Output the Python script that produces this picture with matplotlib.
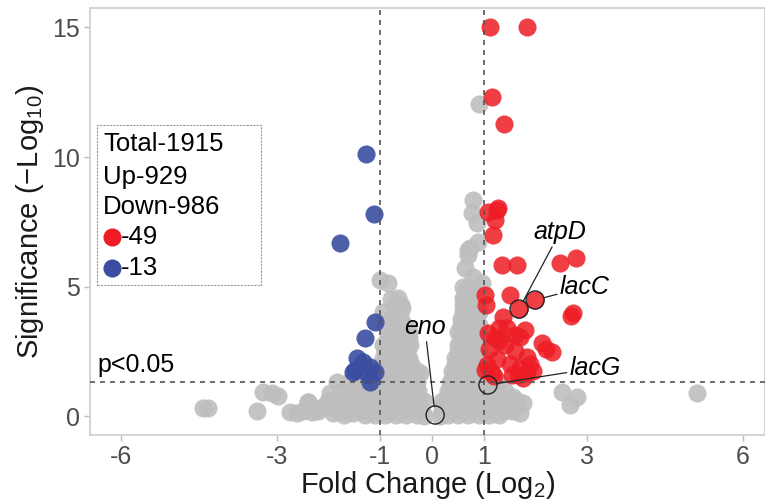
import matplotlib
matplotlib.use("Agg")
import matplotlib.pyplot as plt
from matplotlib.patches import Rectangle

plt.rcParams['font.family'] = ['Liberation Sans', 'DejaVu Sans']
plt.rcParams['mathtext.fontset'] = 'custom'
plt.rcParams['mathtext.rm'] = 'Liberation Sans'

# Up-regulated, significant (log2 fold change, -log10 p)
up_fc = [1.12, 1.83, 1.16, 1.39, 1.08, 1.25, 1.22, 1.18, 1.27, 1.35, 1.64, 2.47, 2.78,
         1.02, 1.51, 1.68, 1.99, 2.72, 2.68, 1.37, 1.08, 1.22, 1.41, 1.60, 1.80, 1.70,
         2.12, 2.32, 1.83, 1.06, 1.02, 1.70, 1.83, 1.66, 1.76, 1.16, 1.30, 1.25, 1.50,
         1.90, 1.55, 2.20, 1.45, 1.10, 1.20, 1.95, 1.05, 1.60, 1.30]
up_sig = [15.0, 15.0, 12.3, 11.27, 7.88, 7.95, 7.57, 6.99, 8.03, 5.83, 5.83, 5.90, 6.10,
          4.67, 4.67, 4.13, 4.48, 3.98, 3.85, 3.82, 3.20, 3.01, 2.74, 3.13, 3.32, 3.05,
          2.82, 2.47, 2.28, 1.97, 1.78, 1.85, 1.66, 1.58, 1.47, 1.66, 3.40, 2.20, 2.00,
          2.00, 1.60, 2.60, 3.40, 2.60, 1.55, 1.75, 4.30, 2.50, 2.90]

# Down-regulated, significant
down_fc = [-1.27, -1.12, -1.78, -1.10, -1.29, -1.45, -1.49, -1.33, -1.20, -1.10, -1.24, -1.53, -1.20]
down_sig = [10.1, 7.80, 6.68, 3.63, 3.01, 2.24, 1.78, 2.08, 1.89, 1.70, 1.58, 1.70, 1.31]

# Not significant
gray_fc = [-4.42, -4.32, -3.38, -3.26, -3.09, -2.97, -2.74, -2.60, -2.39, -2.32, -2.12,
           -1.97, -1.83, -1.91, -1.64, -1.45, -1.53, -1.25, -1.06,
           -1.70, -1.30, -1.10, -0.90, -0.70, -0.50, -0.30, -0.15, 0.15, 0.30, 0.50,
           0.70, 0.90, 1.10, 1.30, 1.45, 1.70,
           -1.90, -1.70, -1.50, -1.05, -0.85, -0.65, -0.45, -0.25, 0.22, 0.40, 0.60,
           0.80, 1.00, 1.20, 1.40, 1.60,
           -2.39, -1.40, -1.20, -1.00, -0.80, -0.60, -0.40, -0.25, 0.30, 0.50, 0.70,
           0.90, 1.10, 1.30, 1.56, 1.76,
           -0.90, -0.70, -0.50, -0.35, 0.35, 0.55, 0.75, 0.95, 1.25,
           -0.95, -0.80, -0.60, -0.40, -0.23, 0.40, 0.60, 0.80, 0.95,
           -0.95, -0.75, -0.55, -0.40, 0.45, 0.65, 0.85,
           -0.90, -0.70, -0.50, -0.46, 0.50, 0.70, 0.90, 0.73,
           -0.85, -0.65, -0.45, 0.55, 0.75, 0.95, 0.58,
           -0.90, -0.68, -0.50, -0.87, 0.55, 0.75, 0.90, 0.64,
           -0.95, -0.58, 0.60, 0.80, 0.90, 0.87,
           -0.66, -0.80, 0.60, 0.79,
           -1.00, -0.85, 0.64, 0.79, 0.97, 0.64, 0.79, 0.68,
           0.69, 0.73, 0.89, 0.87, 0.77, 0.79, 0.91, 0.70,
           2.51, 2.80, 2.66, 5.12,
           # second, offset layer
           -2.50, -2.20, -1.80, -1.60, -1.40, -1.20, -1.00, -0.80, -0.60, -0.40, -0.20,
           0.20, 0.40, 0.60, 0.80, 1.00, 1.20, 1.35, 1.55,
           -2.00, -1.80, -1.55, -1.30, -1.10, -0.90, -0.70, -0.50, -0.30, -0.15,
           0.20, 0.40, 0.60, 0.80, 1.00, 1.20, 1.40, 1.65,
           -1.75, -1.55, -1.30, -1.10, -0.95, -0.80, -0.60, -0.40, -0.28,
           0.30, 0.45, 0.65, 0.85, 1.05, 1.20, 1.40,
           -1.60, -1.30, -1.00, -0.85, -0.65, -0.45, -0.30,
           0.35, 0.50, 0.70, 0.90, 1.10, 1.30,
           -1.00, -0.85, -0.70, -0.50, -0.30, 0.38, 0.55, 0.75, 0.90,
           -0.95, -0.80, -0.60, -0.45, 0.45, 0.60, 0.80, 0.95,
           -0.95, -0.80, -0.60, -0.42, 0.50, 0.65, 0.85,
           -0.80, -0.60, -0.45, 0.50, 0.65, 0.85,
           -0.80, -0.60, 0.55, 0.70, 0.85,
           -0.72, -0.60, 0.60, 0.72,
           0.60, 0.72]
gray_sig = [0.30, 0.30, 0.20, 0.93, 0.89, 0.77, 0.15, 0.10, 0.54, 0.15, 0.35,
            0.89, 1.31, 0.10, 0.62, 1.12, 0.10, 0.35, 1.12,
            0.05, 0.05, 0.05, 0.05, 0.05, 0.05, 0.05, 0.00, 0.00, 0.05, 0.05,
            0.05, 0.05, 0.05, 0.05, 0.23, 0.10,
            0.40, 0.35, 0.35, 0.40, 0.40, 0.40, 0.40, 0.40, 0.40, 0.40, 0.40,
            0.40, 0.40, 0.40, 0.40, 0.40,
            0.54, 0.75, 0.75, 0.75, 0.75, 0.75, 0.75, 0.70, 0.75, 0.75, 0.75,
            0.75, 0.75, 0.75, 0.73, 0.50,
            1.15, 1.15, 1.15, 1.10, 1.10, 1.15, 1.15, 1.15, 1.12,
            1.50, 1.50, 1.50, 1.50, 1.66, 1.50, 1.50, 1.50, 1.50,
            2.00, 2.00, 2.00, 2.00, 2.00, 2.00, 2.00,
            2.50, 2.50, 2.50, 2.66, 2.50, 2.50, 2.50, 2.55,
            3.00, 3.00, 3.00, 3.00, 3.00, 3.00, 3.05,
            3.50, 3.50, 3.44, 3.60, 3.50, 3.50, 3.50, 3.82,
            4.00, 4.17, 4.00, 4.00, 4.00, 4.20,
            4.55, 4.50, 4.55, 4.86,
            5.25, 5.13, 5.71, 5.37, 5.13, 4.67, 4.86, 4.86,
            6.41, 6.50, 6.72, 7.45, 7.84, 8.34, 12.05, 6.20,
            0.93, 0.73, 0.42, 0.89,
            # second, offset layer
            0.20, 0.20, 0.20, 0.20, 0.20, 0.20, 0.20, 0.20, 0.20, 0.20, 0.20,
            0.20, 0.20, 0.20, 0.20, 0.20, 0.20, 0.20, 0.20,
            0.60, 0.60, 0.60, 0.60, 0.60, 0.60, 0.60, 0.60, 0.60, 0.60,
            0.60, 0.60, 0.60, 0.60, 0.60, 0.60, 0.60, 0.60,
            0.95, 0.95, 0.95, 0.95, 0.95, 0.95, 0.95, 0.95, 0.95,
            0.95, 0.95, 0.95, 0.95, 0.95, 0.95, 0.95,
            1.30, 1.30, 1.30, 1.30, 1.30, 1.30, 1.30,
            1.30, 1.30, 1.30, 1.30, 1.30, 1.30,
            1.75, 1.75, 1.75, 1.75, 1.75, 1.75, 1.75, 1.75, 1.75,
            2.25, 2.25, 2.25, 2.25, 2.25, 2.25, 2.25, 2.25,
            2.75, 2.75, 2.75, 2.75, 2.75, 2.75, 2.75,
            3.25, 3.25, 3.25, 3.25, 3.25, 3.25,
            3.75, 3.75, 3.75, 3.75, 3.75,
            4.30, 4.30, 4.30, 4.30,
            5.00, 5.00]

# labelled genes
gene_names = ['eno', 'atpD', 'lacC', 'lacG']
gene_fc = [0.06, 1.68, 1.99, 1.08]
gene_sig = [0.04, 4.13, 4.48, 1.20]
label_xy = [(-0.14, 3.44), (2.47, 7.1), (2.95, 4.98), (3.15, 1.85)]

n_total, n_up, n_down = 1915, 929, 986

red = '#EE1C24'
blue = '#3B4DA0'
grey = '#BEBEBE'

fig = plt.figure(figsize=(7.65, 5.04), dpi=100)
ax = fig.add_axes([0.118, 0.137, 0.882, 0.847])

ax.scatter(gray_fc, gray_sig, s=170, c=grey, alpha=0.9, linewidths=0, zorder=2)
ax.scatter(up_fc, up_sig, s=170, c=red, alpha=0.85, linewidths=0, zorder=3)
ax.scatter(down_fc, down_sig, s=170, c=blue, alpha=0.9, linewidths=0, zorder=3)
ax.scatter(gene_fc, gene_sig, s=170, facecolors='none', edgecolors='#222222', linewidths=1, zorder=5)

ax.axvline(-1, color='#555555', ls=(0, (3, 3)), lw=1.2, zorder=4)
ax.axvline(1, color='#555555', ls=(0, (3, 3)), lw=1.2, zorder=4)
ax.axhline(1.3, color='#555555', ls=(0, (3, 3)), lw=1.2, zorder=4)

for name, gx, gy, (tx, ty) in zip(gene_names, gene_fc, gene_sig, label_xy):
    ax.annotate(name, xy=(gx, gy), xytext=(tx, ty), fontsize=18, style='italic',
                ha='center', va='center', zorder=6,
                arrowprops=dict(arrowstyle='-', color='#222222', lw=0.9, shrinkA=0, shrinkB=6))

ax.text(-6.47, 1.5, 'p<0.05', fontsize=18, ha='left', va='bottom')

# legend-like box
ax.add_patch(Rectangle((0.0104, 0.351), 0.242, 0.375, transform=ax.transAxes, fill=False,
                       ec='#999999', lw=0.8, ls=(0, (2, 1)), zorder=6))
ax.text(0.019, 0.681, 'Total-{0}'.format(n_total), transform=ax.transAxes, fontsize=18.5, va='center')
ax.text(0.019, 0.604, 'Up-{0}'.format(n_up), transform=ax.transAxes, fontsize=18.5, va='center')
ax.text(0.019, 0.534, 'Down-{0}'.format(n_down), transform=ax.transAxes, fontsize=18.5, va='center')
ax.scatter([0.0326], [0.464], s=170, c=red, transform=ax.transAxes, linewidths=0, clip_on=False, zorder=7)
ax.scatter([0.0326], [0.391], s=170, c=blue, transform=ax.transAxes, linewidths=0, clip_on=False, zorder=7)
ax.text(0.046, 0.464, '-{0}'.format(len(up_fc)), transform=ax.transAxes, fontsize=18.5, va='center')
ax.text(0.046, 0.391, '-{0}'.format(len(down_fc)), transform=ax.transAxes, fontsize=18.5, va='center')

ax.set_xlim(-6.6, 6.43)
ax.set_ylim(-0.73, 15.75)
ax.set_xticks([-6, -3, -1, 0, 1, 3, 6])
ax.set_xticklabels(['-6', '-3', '-1', '0', '1', '3', '6'])
ax.set_yticks([0, 5, 10, 15])
ax.tick_params(colors='#BBBBBB', labelcolor='#4D4D4D', labelsize=18, length=4, width=1)
for sp in ax.spines.values():
    sp.set_color('#CCCCCC')
    sp.set_linewidth(1.2)

ax.set_xlabel('Fold Change (Log$\\mathregular{_2}$)', fontsize=21, color='#1A1A1A', labelpad=0)
ax.set_ylabel('Significance (\u2212Log$\\mathregular{_{10}}$)', fontsize=21, color='#1A1A1A')

fig.savefig('out.png', dpi=100)
